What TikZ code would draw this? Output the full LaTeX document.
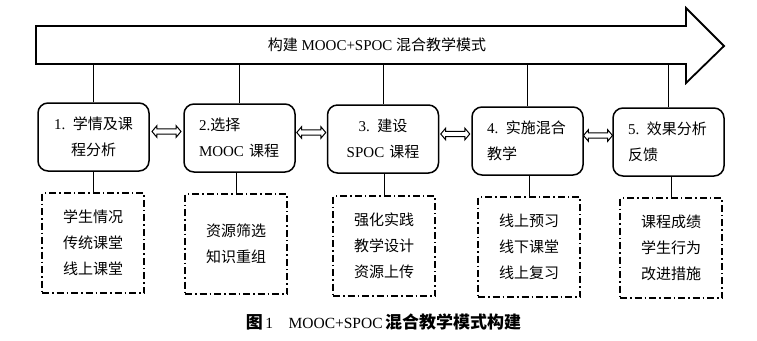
\documentclass[tikz,border=0pt]{standalone}
\usepackage{fontspec}
\setmainfont{Liberation Serif}
\newfontfamily\cjk{Noto Sans CJK SC}
\usetikzlibrary{shapes.arrows}
\newcommand{\zh}[1]{{\cjk #1}}
\newcommand{\zhcap}[1]{{\cjk\bfseries\fontsize{17pt}{18pt}\selectfont #1}}

\begin{document}
\begin{tikzpicture}[x=1pt, y=-1pt,
  every node/.style={font=\fontsize{15pt}{26pt}\selectfont},
  stagebox/.style={draw, rounded corners=10pt, line width=1.5pt,
    minimum width=111pt, minimum height=68pt, inner sep=0pt, text width=81pt},
  notebox/.style={draw, line width=1.5pt, dash pattern=on 7pt off 3pt on 1.5pt off 3pt,
    minimum width=102pt, minimum height=100pt, align=center},
  linkarrow/.style={double arrow, draw, line width=1pt, inner sep=0pt, inner ysep=2.2pt,
    double arrow head extend=3pt, minimum height=29pt, double arrow tip angle=100},
  stem/.style={line width=0.8pt}]
\useasboundingbox (0,0) rectangle (757,340);

% banner arrow
\draw[line width=1.8pt, line join=miter]
  (36,26) -- (686,26) -- (686,8) -- (724,46) -- (686,83) -- (686,64) -- (36,64) -- cycle;
\node (title) at (377,45) {\zh{构建} MOOC+SPOC \zh{混合教学模式}};
\coordinate (shaft) at (36,64);

% stages
\node[stagebox, align=center] (b1) at (93.5,137) {1. \zh{学情及课}\\\zh{程分析}};
\node[stagebox, align=left]   (b2) at (239.5,138) {2.\zh{选择}\\MOOC \zh{课程}};
\node[stagebox, align=center] (b3) at (383,139) {3. \zh{建设}\\SPOC \zh{课程}};
\node[stagebox, align=left]   (b4) at (527.5,141) {4. \zh{实施混合}\\\zh{教学}};
\node[stagebox, align=left]   (b5) at (668.5,142) {5. \zh{效果分析}\\\zh{反馈}};

% details
\node[notebox] (n1) at (93,243) {\zh{学生情况}\\\zh{传统课堂}\\\zh{线上课堂}};
\node[notebox] (n2) at (236,244) {\zh{资源筛选}\\\zh{知识重组}};
\node[notebox] (n3) at (384,246) {\zh{强化实践}\\\zh{教学设计}\\\zh{资源上传}};
\node[notebox] (n4) at (529,247) {\zh{线上预习}\\\zh{线下课堂}\\\zh{线上复习}};
\node[notebox] (n5) at (671,248) {\zh{课程成绩}\\\zh{学生行为}\\\zh{改进措施}};

\foreach \i in {1,...,5} {
  \draw[stem] (b\i.north) -- (b\i.north |- shaft);
  \draw[stem] (n\i.north) -- (n\i.north |- b\i.south);
}
\foreach \i/\j in {1/2,2/3,3/4,4/5}
  \path ([yshift=6pt]b\i.east) -- ([yshift=6pt]b\j.west) node[linkarrow, midway] (link\i) {};

\node[font=\fontsize{15.5pt}{16pt}\selectfont] (caption) at (383.5,322)
  {\zhcap{图}\,1\quad MOOC+SPOC\,\zhcap{混合教学模式构建}};
\end{tikzpicture}
\end{document}
